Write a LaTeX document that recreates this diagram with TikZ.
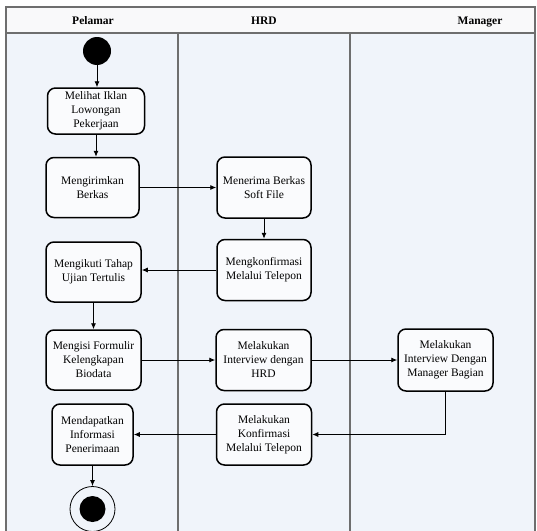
\documentclass[tikz,border=0pt]{standalone}
\usepackage{fontspec}
\setmainfont{Liberation Serif}
\usetikzlibrary{arrows.meta}
\definecolor{lanefill}{RGB}{240,244,250}
\definecolor{headfill}{RGB}{249,249,250}
\definecolor{actfill}{RGB}{250,251,253}
\definecolor{laneline}{RGB}{110,110,110}
\begin{document}
\begin{tikzpicture}[x=1pt,y=-1pt,
  act/.style={draw=black, line width=1.5pt, rounded corners=8pt, fill=actfill,
    align=center, inner sep=0pt, font=\fontsize{11.5}{14}\selectfont},
  flow/.style={line width=0.9pt, -{Latex[length=6pt,width=5pt]}},
  lanehead/.style={font=\fontsize{11.5}{14}\selectfont\bfseries, anchor=base},
  lane/.style={draw=laneline, line width=1.1pt}]
\useasboundingbox (0,0) rectangle (537,530);

% swimlanes
\fill[headfill] (6,7) rectangle (535,33);
\fill[lanefill] (6,33) rectangle (535,531);
\draw[lane] (6,531) -- (6,7) -- (535,7) -- (535,531);
\draw[lane] (6,33) -- (535,33);
\draw[lane] (178,33) -- (178,531);
\draw[lane] (350,33) -- (350,531);
\node[lanehead] (h1) at (93,24) {Pelamar};
\node[lanehead] (h2) at (264,24) {HRD};
\node[lanehead] (h3) at (480,24) {Manager};

% start and end
\fill (97,51) circle (14);
\coordinate (start) at (97,51);
\node[circle, draw=black, line width=0.8pt, minimum size=45, inner sep=0pt] (endc) at (92.5,509) {};
\fill (endc.center) circle (13);

% Pelamar activities
\node[act, minimum width=97, minimum height=46] (a1) at (96,111)
  {Melihat Iklan\\Lowongan\\Pekerjaan};
\node[act, minimum width=93, minimum height=60] (a2) at (92.5,187.5)
  {Mengirimkan\\Berkas};
\node[act, minimum width=95, minimum height=60] (a3) at (93.5,272)
  {Mengikuti Tahap\\Ujian Tertulis};
\node[act, minimum width=95, minimum height=60] (a4) at (93.5,360)
  {Mengisi Formulir\\Kelengkapan\\Biodata};
\node[act, minimum width=81, minimum height=61] (a5) at (92.5,434.5)
  {Mendapatkan\\Informasi\\Penerimaan};

% HRD activities
\node[act, minimum width=94, minimum height=61] (b1) at (264,187.5)
  {Menerima Berkas\\Soft File};
\node[act, minimum width=94, minimum height=61] (b2) at (264,270)
  {Mengkonfirmasi\\Melalui Telepon};
\node[act, minimum width=95, minimum height=61] (b3) at (263.5,360)
  {Melakukan\\Interview dengan\\HRD};
\node[act, minimum width=95, minimum height=61] (b4) at (264,434.5)
  {Melakukan\\Konfirmasi\\Melalui Telepon};

% Manager activity
\node[act, minimum width=95, minimum height=62] (c1) at (445.5,360)
  {Melakukan\\Interview Dengan\\Manager Bagian};

% control flow
\draw[flow] (start) -- (start |- a1.north);
\draw[flow] (a1.south) -- (a1.south |- a2.north);
\draw[flow] (a2.east) -- (a2.east -| b1.west);
\draw[flow] (b1.south) -- (b1.south |- b2.north);
\draw[flow] (b2.west) -- (b2.west -| a3.east);
\draw[flow] (a3.south) -- (a3.south |- a4.north);
\draw[flow] (a4.east) -- (a4.east -| b3.west);
\draw[flow] (b3.east) -- (b3.east -| c1.west);
\draw[flow] (c1.south) |- (b4.east);
\draw[flow] (b4.west) -- (b4.west -| a5.east);
\draw[flow] (a5.south) -- (endc.north);
\end{tikzpicture}
\end{document}
